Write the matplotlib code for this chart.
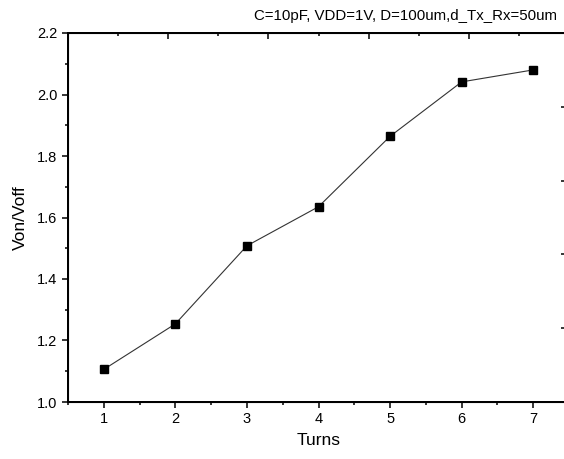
import matplotlib
matplotlib.use("Agg")
import matplotlib.pyplot as plt
from matplotlib.ticker import MultipleLocator, FixedLocator, NullFormatter

plt.rcParams["font.family"] = ["Liberation Sans", "DejaVu Sans"]

# ── data ─────────────────────────────────────────────────────────────────────
turns = [1, 2, 3, 4, 5, 6, 7]
von_voff = [1.106, 1.254, 1.508, 1.635, 1.864, 2.041, 2.080]
title = "C=10pF, VDD=1V, D=100um,d_Tx_Rx=50um"

W, H, DPI = 564, 459, 100
fig = plt.figure(figsize=(W / DPI, H / DPI), dpi=DPI)

# axes extend a little past the right edge (right spine is cropped off)
ax = fig.add_axes([68 / W, 57 / H, 501 / W, 369 / H])
ax.plot(turns, von_voff, color="#333333", lw=0.8, marker="s", ms=6.3,
        mfc="black", mec="black")
ax.set_xlim(0.5, 7.5)
ax.set_ylim(1.0, 2.2)
ax.xaxis.set_major_locator(MultipleLocator(1))
ax.xaxis.set_minor_locator(MultipleLocator(0.5))
ax.yaxis.set_major_locator(MultipleLocator(0.2))
ax.yaxis.set_minor_locator(MultipleLocator(0.1))
ax.yaxis.set_major_formatter(matplotlib.ticker.FormatStrFormatter("%.1f"))
ax.tick_params(which="major", direction="out", length=4, width=1.1,
               labelsize=10.5, pad=3.5, top=False, right=False)
ax.tick_params(which="minor", direction="out", length=2.2, width=1.1,
               top=False, right=False)
for s in ax.spines.values():
    s.set_linewidth(1.4)
ax.set_xlabel("Turns", fontsize=12.5, labelpad=5)
ax.set_ylabel("Von/Voff", fontsize=12.5, labelpad=7)

# top axis with its own scale (ticks only)
axt = ax.twiny()
axt.set_xlim(0, 10)
axt.xaxis.set_major_locator(FixedLocator([2, 4, 6, 8]))
axt.xaxis.set_minor_locator(FixedLocator([1, 3, 5, 7, 9]))
axt.xaxis.set_major_formatter(NullFormatter())
axt.tick_params(axis="x", which="major", direction="in", length=4, width=1.1)
axt.tick_params(axis="x", which="minor", direction="in", length=2.2, width=1.1)
for s in axt.spines.values():
    s.set_linewidth(1.4)

# right axis with its own scale (ticks only)
axr = ax.twinx()
axr.set_ylim(0, 5)
axr.yaxis.set_major_locator(FixedLocator([1, 2, 3, 4]))
axr.yaxis.set_major_formatter(NullFormatter())
axr.tick_params(axis="y", which="major", direction="in", length=6, width=1.1)

fig.text(557 / W, 1 - 20 / H, title, ha="right", va="baseline", fontsize=10.8)

fig.savefig("out.png", dpi=DPI)
